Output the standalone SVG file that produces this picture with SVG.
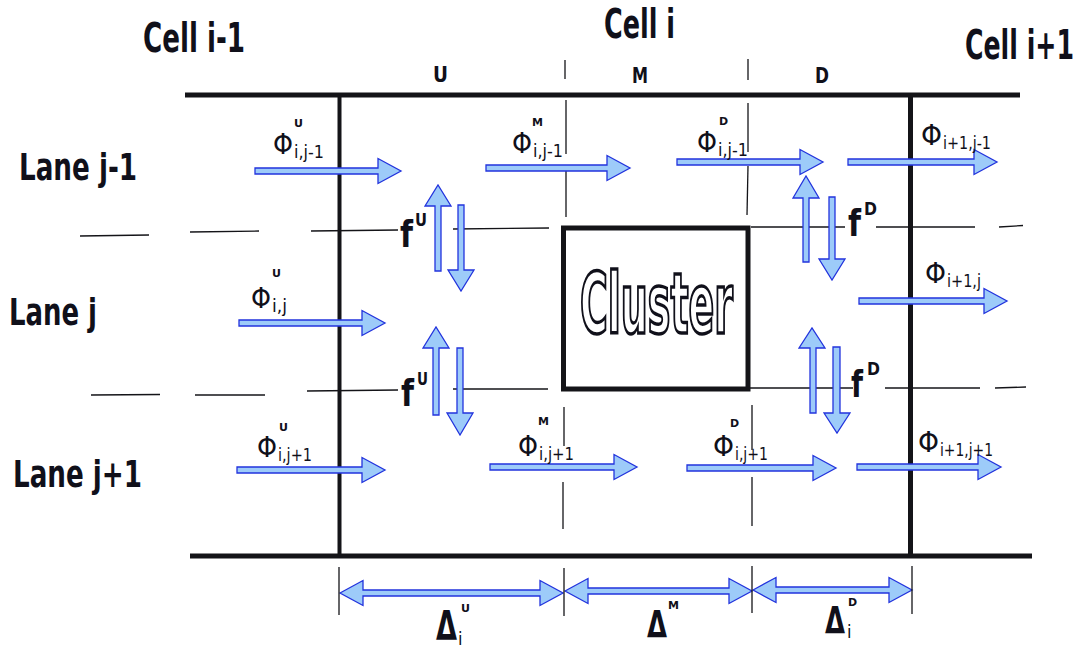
<svg xmlns="http://www.w3.org/2000/svg" width="1085" height="648" viewBox="0 0 1085 648">
<defs>
<style>
.thick{stroke:#141418;stroke-width:5;fill:none}
.thin{stroke:#141418;stroke-width:1.3;fill:none}
.arr{fill:#9dcbf9;stroke:#2233dd;stroke-width:1.3;stroke-linejoin:miter}
.hd{font-family:"DejaVu Sans Condensed","DejaVu Sans",sans-serif;font-weight:bold;fill:#10101a}
.phi{font-family:"DejaVu Sans",sans-serif;fill:#10101a;font-size:28px}
.sub{font-family:"DejaVu Sans Condensed","DejaVu Sans",sans-serif;fill:#10101a;font-size:18px}
.sup{font-family:"DejaVu Sans",sans-serif;font-weight:bold;fill:#10101a;font-size:11px}
.fl{font-family:"DejaVu Sans",sans-serif;font-weight:bold;fill:#10101a;font-size:38px}
.fs{font-family:"DejaVu Sans",sans-serif;font-weight:bold;fill:#10101a;font-size:17px}
</style>
</defs>
<rect width="1085" height="648" fill="#ffffff"/>

<g id="frame">
<line class="thick" x1="185" y1="95" x2="1020" y2="95"/>
<line class="thick" x1="190" y1="556" x2="1032" y2="556"/>
<line class="thick" x1="339.5" y1="95" x2="339.5" y2="556" style="stroke-width:4"/>
<line class="thick" x1="910.5" y1="95" x2="910.5" y2="556"/>
</g>

<g id="dividers">
<line class="thin" x1="565" y1="60" x2="565" y2="79"/>
<line class="thin" x1="566" y1="100" x2="566" y2="154"/>
<line class="thin" x1="566" y1="170" x2="566" y2="217"/>
<line class="thin" x1="748" y1="59" x2="748" y2="80"/>
<line class="thin" x1="748" y1="103" x2="748" y2="152"/>
<line class="thin" x1="748" y1="166" x2="747" y2="215"/>
<line class="thin" x1="564" y1="407" x2="564" y2="446"/>
<line class="thin" x1="563" y1="482" x2="563" y2="529"/>
<line class="thin" x1="752" y1="405" x2="752" y2="450"/>
<line class="thin" x1="752" y1="477" x2="752" y2="526"/>
</g>

<g id="lane-lines">
<line class="thin" x1="80" y1="236" x2="149" y2="235"/>
<line class="thin" x1="190" y1="232" x2="259" y2="231"/>
<line class="thin" x1="311" y1="231" x2="398" y2="230"/>
<line class="thin" x1="453" y1="229" x2="549" y2="228"/>
<line class="thin" x1="751" y1="227" x2="845" y2="227"/>
<line class="thin" x1="876" y1="227" x2="975" y2="227"/>
<line class="thin" x1="999" y1="227" x2="1023" y2="225.5"/>
<line class="thin" x1="91" y1="395" x2="160" y2="394.5"/>
<line class="thin" x1="195" y1="395" x2="265" y2="395"/>
<line class="thin" x1="307" y1="391" x2="398" y2="390"/>
<line class="thin" x1="453" y1="389" x2="548" y2="389"/>
<line class="thin" x1="750" y1="388" x2="853" y2="388"/>
<line class="thin" x1="885" y1="388" x2="980" y2="388"/>
<line class="thin" x1="995" y1="388" x2="1026" y2="387"/>
</g>

<g id="cluster">
<rect x="563.5" y="228" width="184.5" height="161" fill="#ffffff" stroke="#141418" stroke-width="5"/>
<text x="580" y="333" textLength="153" lengthAdjust="spacingAndGlyphs" style="font-family:'DejaVu Sans Condensed','DejaVu Sans',sans-serif;font-weight:bold;font-size:84px;fill:#ffffff;stroke:#10101a;stroke-width:3.5">Cluster</text>
</g>

<g id="cell-labels">
<text class="hd" x="143" y="52" font-size="41" textLength="102" lengthAdjust="spacingAndGlyphs">Cell i-1</text>
<text class="hd" x="604" y="38" font-size="41" textLength="71" lengthAdjust="spacingAndGlyphs">Cell i</text>
<text class="hd" x="965" y="59" font-size="41" textLength="109" lengthAdjust="spacingAndGlyphs">Cell i+1</text>
<text class="hd" x="433" y="82" font-size="22" textLength="15" lengthAdjust="spacingAndGlyphs">U</text>
<text class="hd" x="632" y="83" font-size="22" textLength="16" lengthAdjust="spacingAndGlyphs">M</text>
<text class="hd" x="815" y="83" font-size="22" textLength="14" lengthAdjust="spacingAndGlyphs">D</text>
</g>

<g id="lane-labels">
<text class="hd" x="19" y="180" font-size="38" textLength="118" lengthAdjust="spacingAndGlyphs">Lane j-1</text>
<text class="hd" x="9" y="325" font-size="38" textLength="88" lengthAdjust="spacingAndGlyphs">Lane j</text>
<text class="hd" x="13" y="487" font-size="38" textLength="129" lengthAdjust="spacingAndGlyphs">Lane j+1</text>
</g>

<g id="connectors">
<path class="arr" d="M255,168 H378 V158.5 L401,171 L378,183.5 V174 H255 Z"/>
<path class="arr" d="M486,165 H607 V155.5 L630,168 L607,180.5 V171 H486 Z"/>
<path class="arr" d="M677,159 H800 V149.5 L823,162 L800,174.5 V165 H677 Z"/>
<path class="arr" d="M848,159 H974 V149.5 L997,162 L974,174.5 V165 H848 Z"/>
<path class="arr" d="M239,320 H362 V310.5 L385,323 L362,335.5 V326 H239 Z"/>
<path class="arr" d="M859,298 H984 V288.5 L1007,301 L984,313.5 V304 H859 Z"/>
<path class="arr" d="M237,467 H362 V457.5 L385,470 L362,482.5 V473 H237 Z"/>
<path class="arr" d="M490,464 H614 V454.5 L637,467 L614,479.5 V470 H490 Z"/>
<path class="arr" d="M687,465 H813 V455.5 L836,468 L813,480.5 V471 H687 Z"/>
<path class="arr" d="M857,464 H978 V454.5 L1001,467 L978,479.5 V470 H857 Z"/>
<path class="arr" d="M435,271 V206 H425 L438,185 L451,206 H441 V271 Z"/>
<path class="arr" d="M458,205 V270 H448 L461,291 L474,270 H464 V205 Z"/>
<path class="arr" d="M433,415 V348 H423 L436,327 L449,348 H439 V415 Z"/>
<path class="arr" d="M457,348 V413 H447 L460,435 L473,413 H463 V348 Z"/>
<path class="arr" d="M803,262 V198 H793 L806,176 L819,198 H809 V262 Z"/>
<path class="arr" d="M829,197 V259 H819 L832,280 L845,259 H835 V197 Z"/>
<path class="arr" d="M810,413 V348 H799 L812,328 L825,348 H816 V413 Z"/>
<path class="arr" d="M833,347 V413 H824 L837,433 L850,413 H840 V347 Z"/>
<path class="arr" d="M340,593 L363,580.5 V590 H540 V580.5 L563,593 L540,605.5 V596 H363 V605.5 Z"/>
<path class="arr" d="M565,591 L588,578.5 V588 H729 V578.5 L752,591 L729,603.5 V594 H588 V603.5 Z"/>
<path class="arr" d="M753,590 L776,577.5 V587 H889 V577.5 L912,590 L889,602.5 V593 H776 V602.5 Z"/>
<line class="thin" x1="339" y1="567" x2="339" y2="615"/>
<line class="thin" x1="564" y1="568" x2="564" y2="616"/>
<line class="thin" x1="752" y1="566" x2="752" y2="613"/>
<line class="thin" x1="912" y1="566" x2="912" y2="614"/>
</g>

<g id="flow-labels">
<text class="phi" x="273" y="154" textLength="20" lengthAdjust="spacingAndGlyphs">Φ</text>
<text class="sub" x="294" y="158" textLength="30" lengthAdjust="spacingAndGlyphs">i,j-1</text>
<text class="sup" x="294" y="127">U</text>

<text class="phi" x="512" y="153" textLength="20" lengthAdjust="spacingAndGlyphs">Φ</text>
<text class="sub" x="533" y="157" textLength="30" lengthAdjust="spacingAndGlyphs">i,j-1</text>
<text class="sup" x="532" y="126">M</text>

<text class="phi" x="697" y="152" textLength="20" lengthAdjust="spacingAndGlyphs">Φ</text>
<text class="sub" x="718" y="156" textLength="30" lengthAdjust="spacingAndGlyphs">i,j-1</text>
<text class="sup" x="719" y="125">D</text>

<text class="phi" x="921" y="145" textLength="21" lengthAdjust="spacingAndGlyphs">Φ</text>
<text class="sub" x="943" y="149" textLength="48" lengthAdjust="spacingAndGlyphs">i+1,j-1</text>

<text class="phi" x="251" y="308" textLength="20" lengthAdjust="spacingAndGlyphs">Φ</text>
<text class="sub" x="272" y="312" textLength="15" lengthAdjust="spacingAndGlyphs">i,j</text>
<text class="sup" x="272" y="277">U</text>

<text class="phi" x="925" y="283" textLength="21" lengthAdjust="spacingAndGlyphs">Φ</text>
<text class="sub" x="947" y="287" textLength="34" lengthAdjust="spacingAndGlyphs">i+1,j</text>

<text class="phi" x="257" y="457" textLength="20" lengthAdjust="spacingAndGlyphs">Φ</text>
<text class="sub" x="278" y="461" textLength="34" lengthAdjust="spacingAndGlyphs">i,j+1</text>
<text class="sup" x="279" y="431">U</text>

<text class="phi" x="518" y="456" textLength="20" lengthAdjust="spacingAndGlyphs">Φ</text>
<text class="sub" x="539" y="460" textLength="35" lengthAdjust="spacingAndGlyphs">i,j+1</text>
<text class="sup" x="538" y="425">M</text>

<text class="phi" x="713" y="456" textLength="21" lengthAdjust="spacingAndGlyphs">Φ</text>
<text class="sub" x="735" y="460" textLength="33" lengthAdjust="spacingAndGlyphs">i,j+1</text>
<text class="sup" x="730" y="427">D</text>

<text class="phi" x="918" y="452" textLength="21" lengthAdjust="spacingAndGlyphs">Φ</text>
<text class="sub" x="940" y="456" textLength="53" lengthAdjust="spacingAndGlyphs">i+1,j+1</text>
</g>

<g id="exchange-labels">
<text class="fl" x="400" y="247" textLength="13" lengthAdjust="spacingAndGlyphs">f</text>
<text class="fs" x="415" y="226" textLength="12" lengthAdjust="spacingAndGlyphs">U</text>
<text class="fl" x="401" y="406" textLength="13" lengthAdjust="spacingAndGlyphs">f</text>
<text class="fs" x="417" y="385" textLength="11" lengthAdjust="spacingAndGlyphs">U</text>
<text class="fl" x="848" y="236" textLength="13" lengthAdjust="spacingAndGlyphs">f</text>
<text class="fs" x="864" y="215" textLength="13" lengthAdjust="spacingAndGlyphs">D</text>
<text class="fl" x="851" y="397" textLength="12" lengthAdjust="spacingAndGlyphs">f</text>
<text class="fs" x="867" y="375" textLength="13" lengthAdjust="spacingAndGlyphs">D</text>
</g>

<g id="length-labels">
<text class="hd" x="436" y="640" font-size="40" textLength="21" lengthAdjust="spacingAndGlyphs">Δ</text>
<text class="sup" x="461" y="612">U</text>
<text class="sub" x="458" y="645" font-size="18">i</text>
<text class="hd" x="647" y="637" font-size="38" textLength="20" lengthAdjust="spacingAndGlyphs">Δ</text>
<text class="sup" x="668" y="609">M</text>
<text class="hd" x="825" y="633" font-size="38" textLength="20" lengthAdjust="spacingAndGlyphs">Δ</text>
<text class="sup" x="848" y="606">D</text>
<text class="sub" x="847" y="638" font-size="18">i</text>
</g>
</svg>
